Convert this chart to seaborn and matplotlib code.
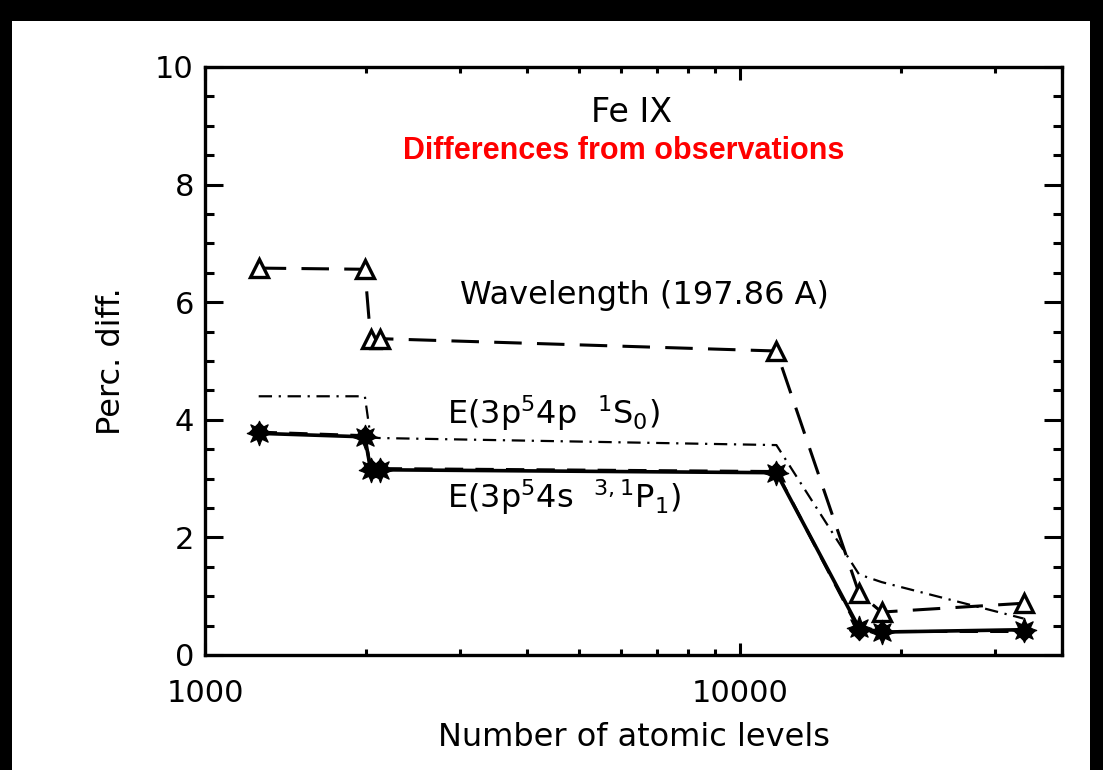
import numpy as np
import pandas as pd
import matplotlib
matplotlib.use("Agg")
import matplotlib.pyplot as plt
import seaborn as sns
from matplotlib.patches import Rectangle
from matplotlib.ticker import LogLocator, MultipleLocator, FixedLocator, FixedFormatter, NullFormatter

# ---- data ----
levels = [1260, 1990, 2040, 2120, 11700, 16700, 18400, 33900]
wavelength = [6.58, 6.56, 5.38, 5.38, 5.17, 1.05, 0.73, 0.88]
e_1s0 = [4.40, 4.40, 3.70, 3.69, 3.57, 1.37, 1.24, 0.62]
e_3p1 = [3.77, 3.71, 3.15, 3.15, 3.10, 0.46, 0.39, 0.43]
e_1p1 = [3.79, 3.73, 3.17, 3.17, 3.12, 0.42, 0.40, 0.40]
xticks = [1000, 10000]
xticklabels = ["1000", "10000"]
yticks = [0, 2, 4, 6, 8, 10]

sns.set_theme(style="white")
plt.rcParams['font.family'] = ['DejaVu Sans']
plt.rcParams['mathtext.default'] = 'regular'
for k in ["text.color", "axes.labelcolor", "xtick.color", "ytick.color"]:
    plt.rcParams[k] = "black"

fig = plt.figure(figsize=(11.03, 7.70), dpi=100)
fig.patch.set_facecolor("white")
ax = fig.add_axes([205/1103, 1-655/770, (1062-205)/1103, (655-67)/770])

df = pd.DataFrame({"levels": levels, "wl": wavelength, "s0": e_1s0,
                   "p3": e_3p1, "p1": e_1p1})

lw = 2.2
sns.lineplot(data=df, x="levels", y="s0", ax=ax, estimator=None, sort=False,
             color="black", lw=1.6, linestyle=(0, (6, 3, 1, 3)))
sns.lineplot(data=df, x="levels", y="wl", ax=ax, estimator=None, sort=False,
             color="black", lw=lw, linestyle=(0, (9, 5)),
             marker="^", markersize=13, markerfacecolor="white",
             markeredgecolor="black", markeredgewidth=2.4)
sns.lineplot(data=df, x="levels", y="p1", ax=ax, estimator=None, sort=False,
             color="black", lw=lw, linestyle=(0, (6, 4)),
             marker="D", markersize=10, markerfacecolor="black",
             markeredgecolor="black")
sns.lineplot(data=df, x="levels", y="p3", ax=ax, estimator=None, sort=False,
             color="black", lw=lw + 0.4, linestyle="-",
             marker=(8, 1, 0), markersize=18, markerfacecolor="black",
             markeredgecolor="black")

ax.set_xscale("log")
ax.set_xlim(1000, 40000)
ax.set_ylim(0, 10)

ax.xaxis.set_major_locator(FixedLocator(xticks))
ax.xaxis.set_major_formatter(FixedFormatter(xticklabels))
ax.xaxis.set_minor_locator(LogLocator(base=10, subs=np.arange(2, 10), numticks=20))
ax.xaxis.set_minor_formatter(NullFormatter())
ax.yaxis.set_major_locator(FixedLocator(yticks))
ax.yaxis.set_minor_locator(MultipleLocator(0.5))

ax.tick_params(axis="both", which="both", direction="in", top=True, right=True,
               bottom=True, left=True, color="black", width=2.2)
ax.tick_params(axis="y", which="major", length=13, labelsize=22, pad=8)
ax.tick_params(axis="y", which="minor", length=6.5)
ax.tick_params(axis="x", which="major", length=9, labelsize=22, pad=17)
ax.tick_params(axis="x", which="minor", length=4)
for sp in ax.spines.values():
    sp.set_visible(True)
    sp.set_color("black")
    sp.set_linewidth(2.4)

ax.set_xlabel("Number of atomic levels", fontsize=23, labelpad=10)
ax.set_ylabel("Perc. diff.", fontsize=23, labelpad=20)

ax.text(0.498, (655-122)/588, "Fe IX", transform=ax.transAxes, ha="center",
        va="baseline", fontsize=24, color="black")
ax.text(0.488, (655-159)/588, "Differences from observations", transform=ax.transAxes,
        ha="center", va="baseline", fontsize=22, color="red", fontweight="bold",
        family="Liberation Sans")
ax.text(0.2975, 0.612, "Wavelength (197.86 A)", transform=ax.transAxes,
        ha="left", va="center", fontsize=23)
ax.text(0.282, 0.412, r"E(3p$^5$4p  $^1$S$_0$)", transform=ax.transAxes,
        ha="left", va="center", fontsize=23)
ax.text(0.282, 0.269, r"E(3p$^5$4s  $^{3,1}$P$_1$)", transform=ax.transAxes,
        ha="left", va="center", fontsize=23)

# black frame bands of the original screenshot
fig.patches.append(Rectangle((0, 1-21/770), 1, 21/770, transform=fig.transFigure,
                             facecolor="black", edgecolor="none"))
fig.patches.append(Rectangle((0, 0), 12/1103, 1, transform=fig.transFigure,
                             facecolor="black", edgecolor="none"))
fig.patches.append(Rectangle((1-13/1103, 0), 13/1103, 1, transform=fig.transFigure,
                             facecolor="black", edgecolor="none"))

fig.savefig("out.png", dpi=100, facecolor="white")
